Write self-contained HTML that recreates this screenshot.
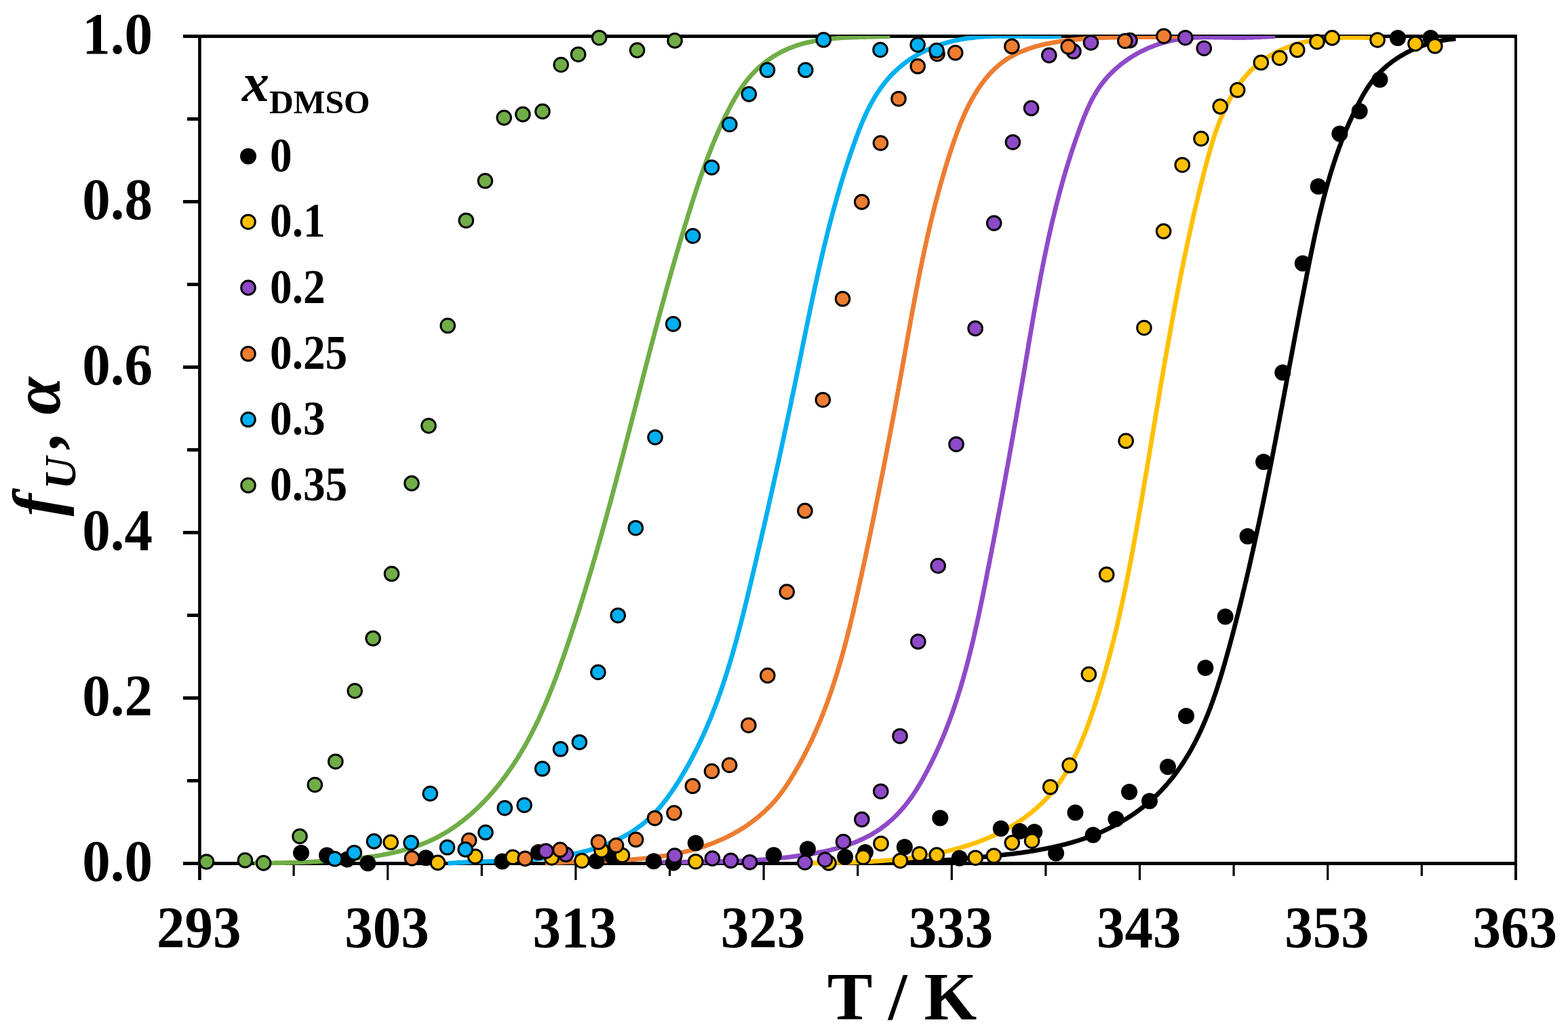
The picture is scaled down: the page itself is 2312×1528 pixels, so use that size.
<!DOCTYPE html>
<html><head><meta charset="utf-8"><title>Unfolded fraction vs temperature</title>
<style>html,body{margin:0;padding:0;background:#fff;}svg{display:block;}</style></head>
<body>
<svg width="2312" height="1528" viewBox="0 0 2312 1528">
<defs><clipPath id="pc"><rect x="292" y="52.8" width="1946" height="1240"/></clipPath></defs>
<rect width="2312" height="1528" fill="#fff"/>
<g stroke="#000" fill="none">
<path d="M294.4,51 V1298" stroke-width="4.6"/>
<path d="M270,53.5 H2237" stroke-width="5"/>
<path d="M2235,51 V1298" stroke-width="4"/>
<path d="M270,1273.5 H2237" stroke-width="5"/>
<path d="M276,1151.5 H294" stroke-width="5"/>
<path d="M270,1029.5 H294" stroke-width="5"/>
<path d="M276,907.5 H294" stroke-width="5"/>
<path d="M270,785.5 H294" stroke-width="5"/>
<path d="M276,663.5 H294" stroke-width="5"/>
<path d="M270,541.5 H294" stroke-width="5"/>
<path d="M276,419.5 H294" stroke-width="5"/>
<path d="M270,297.5 H294" stroke-width="5"/>
<path d="M276,175.5 H294" stroke-width="5"/>
<path d="M294.5,1273 V1298" stroke-width="3.2"/>
<path d="M433.1,1273 V1292" stroke-width="3.2"/>
<path d="M571.7,1273 V1298" stroke-width="3.2"/>
<path d="M710.3,1273 V1292" stroke-width="3.2"/>
<path d="M848.9,1273 V1298" stroke-width="3.2"/>
<path d="M987.5,1273 V1292" stroke-width="3.2"/>
<path d="M1126.1,1273 V1298" stroke-width="3.2"/>
<path d="M1264.7,1273 V1292" stroke-width="3.2"/>
<path d="M1403.3,1273 V1298" stroke-width="3.2"/>
<path d="M1541.9,1273 V1292" stroke-width="3.2"/>
<path d="M1680.5,1273 V1298" stroke-width="3.2"/>
<path d="M1819.1,1273 V1292" stroke-width="3.2"/>
<path d="M1957.7,1273 V1298" stroke-width="3.2"/>
<path d="M2096.3,1273 V1292" stroke-width="3.2"/>
</g>
<g font-family="Liberation Serif, serif" font-weight="bold" font-size="83" fill="#000">
<text transform="translate(225,1299.3) scale(1,1.035)" text-anchor="end">0.0</text>
<text transform="translate(225,1055.3) scale(1,1.035)" text-anchor="end">0.2</text>
<text transform="translate(225,811.3) scale(1,1.035)" text-anchor="end">0.4</text>
<text transform="translate(225,567.3) scale(1,1.035)" text-anchor="end">0.6</text>
<text transform="translate(225,323.3) scale(1,1.035)" text-anchor="end">0.8</text>
<text transform="translate(225,79.3) scale(1,1.035)" text-anchor="end">1.0</text>
<text transform="translate(293.3,1397) scale(1,1.035)" text-anchor="middle">293</text>
<text transform="translate(570.5,1397) scale(1,1.035)" text-anchor="middle">303</text>
<text transform="translate(847.7,1397) scale(1,1.035)" text-anchor="middle">313</text>
<text transform="translate(1124.9,1397) scale(1,1.035)" text-anchor="middle">323</text>
<text transform="translate(1402.1,1397) scale(1,1.035)" text-anchor="middle">333</text>
<text transform="translate(1679.3,1397) scale(1,1.035)" text-anchor="middle">343</text>
<text transform="translate(1956.5,1397) scale(1,1.035)" text-anchor="middle">353</text>
<text transform="translate(2233.7,1397) scale(1,1.035)" text-anchor="middle">363</text>
</g>
<text x="1330" y="1503" font-family="Liberation Serif, serif" font-weight="bold" font-size="100" text-anchor="middle">T / K</text>
<text transform="translate(88,761.5) rotate(-90)" font-family="Liberation Serif, serif" font-weight="bold" font-style="italic" font-size="100">f<tspan font-size="66" dy="23" dx="6.5">U</tspan><tspan dy="-23" dx="13.2">,</tspan><tspan dx="-0.7"> α</tspan></text>
<g clip-path="url(#pc)" fill="none" stroke-width="6.75" stroke-linejoin="round">
<path d="M1330.0,1270.0 L1333.3,1270.1 L1336.6,1270.1 L1339.9,1270.2 L1343.3,1270.2 L1346.6,1270.2 L1349.9,1270.2 L1353.2,1270.1 L1356.5,1270.1 L1359.8,1270.0 L1363.1,1269.9 L1366.5,1269.8 L1369.8,1269.7 L1373.1,1269.6 L1376.3,1269.5 L1379.6,1269.3 L1382.9,1269.2 L1386.2,1269.0 L1389.5,1268.8 L1392.8,1268.6 L1396.1,1268.4 L1399.4,1268.2 L1402.7,1268.0 L1406.0,1267.8 L1409.2,1267.5 L1412.5,1267.3 L1415.8,1267.0 L1419.1,1266.7 L1422.4,1266.5 L1425.7,1266.2 L1428.9,1265.9 L1432.2,1265.6 L1435.5,1265.3 L1438.8,1265.0 L1442.1,1264.7 L1445.4,1264.4 L1448.7,1264.1 L1452.0,1263.7 L1455.3,1263.4 L1458.6,1263.1 L1461.8,1262.7 L1465.1,1262.4 L1468.4,1262.1 L1471.7,1261.7 L1475.0,1261.4 L1478.3,1261.0 L1481.6,1260.6 L1484.9,1260.2 L1488.2,1259.9 L1491.5,1259.5 L1494.8,1259.1 L1498.1,1258.6 L1501.4,1258.2 L1504.7,1257.8 L1507.9,1257.3 L1511.2,1256.8 L1514.5,1256.4 L1517.8,1255.9 L1521.0,1255.3 L1524.3,1254.8 L1527.6,1254.3 L1530.8,1253.7 L1534.1,1253.1 L1537.3,1252.5 L1540.6,1251.9 L1543.8,1251.3 L1547.1,1250.6 L1550.3,1250.0 L1553.5,1249.3 L1556.7,1248.6 L1559.9,1247.8 L1563.2,1247.1 L1566.4,1246.3 L1569.5,1245.5 L1572.7,1244.7 L1575.9,1243.8 L1579.1,1242.9 L1582.2,1242.0 L1585.4,1241.1 L1588.5,1240.1 L1591.7,1239.1 L1594.8,1238.1 L1597.9,1237.1 L1601.0,1236.0 L1604.1,1234.9 L1607.2,1233.8 L1610.3,1232.6 L1613.4,1231.4 L1616.4,1230.2 L1619.5,1228.9 L1622.5,1227.6 L1625.6,1226.3 L1628.6,1224.9 L1631.6,1223.5 L1634.6,1222.1 L1637.5,1220.6 L1640.5,1219.1 L1643.5,1217.5 L1646.4,1215.9 L1649.3,1214.3 L1652.2,1212.7 L1655.1,1211.0 L1658.0,1209.2 L1660.9,1207.5 L1663.7,1205.7 L1666.5,1203.9 L1669.3,1202.0 L1672.1,1200.1 L1674.8,1198.2 L1677.5,1196.2 L1680.2,1194.2 L1682.9,1192.2 L1685.5,1190.2 L1688.1,1188.1 L1690.7,1186.0 L1693.2,1183.9 L1695.7,1181.7 L1698.2,1179.5 L1700.7,1177.3 L1703.1,1175.0 L1705.5,1172.8 L1707.8,1170.5 L1710.1,1168.1 L1712.4,1165.8 L1714.6,1163.4 L1716.8,1161.0 L1719.0,1158.6 L1721.1,1156.2 L1723.2,1153.7 L1725.3,1151.2 L1727.4,1148.7 L1729.4,1146.2 L1731.4,1143.6 L1733.3,1141.0 L1735.2,1138.4 L1737.1,1135.8 L1739.0,1133.1 L1740.8,1130.5 L1742.7,1127.8 L1744.4,1125.1 L1746.2,1122.4 L1747.9,1119.6 L1749.6,1116.9 L1751.3,1114.1 L1753.0,1111.3 L1754.6,1108.5 L1756.2,1105.6 L1757.8,1102.8 L1759.3,1099.9 L1760.9,1097.1 L1762.4,1094.2 L1763.9,1091.2 L1765.3,1088.3 L1766.8,1085.4 L1768.2,1082.4 L1769.6,1079.5 L1771.0,1076.5 L1772.3,1073.5 L1773.7,1070.5 L1775.0,1067.4 L1776.3,1064.4 L1777.5,1061.4 L1778.8,1058.3 L1780.1,1055.2 L1781.3,1052.2 L1782.5,1049.1 L1783.7,1046.0 L1784.9,1042.9 L1786.0,1039.7 L1787.2,1036.6 L1788.3,1033.5 L1789.4,1030.3 L1790.5,1027.2 L1791.6,1024.0 L1792.7,1020.8 L1793.7,1017.7 L1794.8,1014.5 L1795.8,1011.3 L1796.8,1008.1 L1797.8,1004.9 L1798.8,1001.7 L1799.8,998.5 L1800.8,995.3 L1801.8,992.0 L1802.7,988.8 L1803.7,985.6 L1804.6,982.4 L1805.6,979.1 L1806.5,975.9 L1807.4,972.6 L1808.3,969.4 L1809.2,966.2 L1810.1,962.9 L1811.0,959.7 L1811.9,956.4 L1812.8,953.2 L1813.7,949.9 L1814.5,946.7 L1815.4,943.5 L1816.3,940.2 L1817.1,937.0 L1818.0,933.7 L1818.8,930.5 L1819.7,927.3 L1820.5,924.0 L1821.3,920.8 L1822.2,917.6 L1823.0,914.3 L1823.8,911.1 L1824.6,907.8 L1825.5,904.6 L1826.3,901.4 L1827.1,898.1 L1827.9,894.9 L1828.7,891.7 L1829.5,888.4 L1830.3,885.2 L1831.1,882.0 L1831.9,878.8 L1832.6,875.5 L1833.4,872.3 L1834.2,869.1 L1835.0,865.8 L1835.7,862.6 L1836.5,859.4 L1837.3,856.2 L1838.0,852.9 L1838.8,849.7 L1839.5,846.5 L1840.3,843.3 L1841.0,840.0 L1841.8,836.8 L1842.5,833.6 L1843.2,830.4 L1844.0,827.1 L1844.7,823.9 L1845.4,820.7 L1846.1,817.5 L1846.9,814.2 L1847.6,811.0 L1848.3,807.8 L1849.0,804.6 L1849.7,801.3 L1850.4,798.1 L1851.1,794.9 L1851.8,791.7 L1852.5,788.5 L1853.2,785.2 L1853.9,782.0 L1854.6,778.8 L1855.3,775.6 L1856.0,772.4 L1856.7,769.1 L1857.3,765.9 L1858.0,762.7 L1858.7,759.5 L1859.4,756.3 L1860.0,753.0 L1860.7,749.8 L1861.4,746.6 L1862.0,743.4 L1862.7,740.2 L1863.4,736.9 L1864.0,733.7 L1864.7,730.5 L1865.3,727.3 L1866.0,724.1 L1866.6,720.8 L1867.3,717.6 L1867.9,714.4 L1868.6,711.2 L1869.2,708.0 L1869.9,704.7 L1870.5,701.5 L1871.2,698.3 L1871.8,695.1 L1872.4,691.9 L1873.1,688.6 L1873.7,685.4 L1874.3,682.2 L1875.0,679.0 L1875.6,675.8 L1876.2,672.5 L1876.8,669.3 L1877.5,666.1 L1878.1,662.9 L1878.7,659.7 L1879.3,656.4 L1880.0,653.2 L1880.6,650.0 L1881.2,646.8 L1881.8,643.5 L1882.4,640.3 L1883.0,637.1 L1883.7,633.9 L1884.3,630.7 L1884.9,627.4 L1885.5,624.2 L1886.1,621.0 L1886.7,617.8 L1887.3,614.5 L1887.9,611.3 L1888.5,608.1 L1889.1,604.9 L1889.8,601.6 L1890.4,598.4 L1891.0,595.2 L1891.6,591.9 L1892.2,588.7 L1892.8,585.5 L1893.4,582.3 L1894.0,579.0 L1894.6,575.8 L1895.2,572.6 L1895.8,569.3 L1896.4,566.1 L1897.0,562.9 L1897.6,559.6 L1898.2,556.4 L1898.8,553.2 L1899.4,549.9 L1900.0,546.7 L1900.6,543.5 L1901.2,540.2 L1901.8,537.0 L1902.5,533.8 L1903.1,530.5 L1903.7,527.3 L1904.3,524.1 L1904.9,520.8 L1905.5,517.6 L1906.1,514.3 L1906.7,511.1 L1907.3,507.9 L1907.9,504.6 L1908.5,501.4 L1909.1,498.1 L1909.7,494.9 L1910.3,491.6 L1911.0,488.4 L1911.6,485.1 L1912.2,481.9 L1912.8,478.6 L1913.4,475.4 L1914.0,472.1 L1914.6,468.9 L1915.3,465.6 L1915.9,462.4 L1916.5,459.1 L1917.1,455.9 L1917.7,452.6 L1918.4,449.4 L1919.0,446.1 L1919.6,442.9 L1920.2,439.6 L1920.9,436.3 L1921.5,433.1 L1922.1,429.8 L1922.8,426.6 L1923.4,423.3 L1924.0,420.0 L1924.7,416.8 L1925.3,413.5 L1926.0,410.2 L1926.6,407.0 L1927.2,403.7 L1927.9,400.4 L1928.5,397.2 L1929.2,393.9 L1929.8,390.6 L1930.5,387.4 L1931.1,384.1 L1931.8,380.8 L1932.5,377.5 L1933.1,374.3 L1933.8,371.0 L1934.5,367.7 L1935.2,364.4 L1935.8,361.2 L1936.5,357.9 L1937.2,354.6 L1937.9,351.4 L1938.6,348.1 L1939.3,344.8 L1940.0,341.6 L1940.8,338.3 L1941.5,335.0 L1942.2,331.8 L1943.0,328.5 L1943.7,325.3 L1944.5,322.0 L1945.2,318.8 L1946.0,315.5 L1946.8,312.3 L1947.6,309.0 L1948.4,305.8 L1949.2,302.5 L1950.0,299.3 L1950.8,296.1 L1951.6,292.8 L1952.5,289.6 L1953.3,286.4 L1954.2,283.2 L1955.0,280.0 L1955.9,276.8 L1956.8,273.6 L1957.7,270.4 L1958.6,267.2 L1959.6,264.0 L1960.5,260.8 L1961.4,257.6 L1962.4,254.4 L1963.4,251.3 L1964.4,248.1 L1965.4,244.9 L1966.4,241.8 L1967.4,238.6 L1968.5,235.5 L1969.5,232.4 L1970.6,229.2 L1971.7,226.1 L1972.8,223.0 L1973.9,219.9 L1975.0,216.8 L1976.2,213.7 L1977.3,210.6 L1978.5,207.5 L1979.7,204.5 L1980.9,201.4 L1982.1,198.3 L1983.4,195.3 L1984.6,192.2 L1985.9,189.2 L1987.2,186.2 L1988.5,183.2 L1989.8,180.2 L1991.2,177.2 L1992.6,174.2 L1993.9,171.2 L1995.3,168.2 L1996.8,165.3 L1998.2,162.3 L1999.7,159.4 L2001.2,156.4 L2002.7,153.5 L2004.2,150.6 L2005.7,147.7 L2007.3,144.8 L2008.9,141.9 L2010.5,139.0 L2012.2,136.2 L2013.9,133.4 L2015.7,130.6 L2017.5,127.9 L2019.3,125.2 L2021.2,122.5 L2023.2,119.9 L2025.2,117.4 L2027.2,114.8 L2029.4,112.4 L2031.6,109.9 L2033.8,107.6 L2036.1,105.2 L2038.5,103.0 L2040.9,100.7 L2043.3,98.6 L2045.8,96.4 L2048.4,94.4 L2051.0,92.3 L2053.6,90.4 L2056.3,88.5 L2059.0,86.6 L2061.8,84.8 L2064.6,83.0 L2067.5,81.3 L2070.3,79.7 L2073.3,78.1 L2076.2,76.5 L2079.2,75.1 L2082.2,73.6 L2085.2,72.3 L2088.3,71.0 L2091.4,69.7 L2094.5,68.5 L2097.6,67.4 L2100.8,66.3 L2104.0,65.3 L2107.2,64.3 L2110.4,63.4 L2113.6,62.5 L2116.9,61.8 L2120.2,61.0 L2123.4,60.4 L2126.7,59.7 L2130.0,59.2 L2133.3,58.7 L2136.6,58.2 L2139.9,57.8 L2143.2,57.5 L2146.5,57.2" stroke="#000000"/>
<path d="M1190.1,1272.8 L1193.4,1272.8 L1196.8,1272.8 L1200.2,1272.8 L1203.5,1272.8 L1206.9,1272.8 L1210.3,1272.7 L1213.7,1272.7 L1217.1,1272.7 L1220.5,1272.6 L1223.9,1272.6 L1227.3,1272.6 L1230.6,1272.5 L1234.0,1272.4 L1237.4,1272.4 L1240.8,1272.3 L1244.2,1272.2 L1247.6,1272.2 L1251.0,1272.1 L1254.4,1272.0 L1257.8,1271.8 L1261.2,1271.7 L1264.6,1271.6 L1268.0,1271.5 L1271.4,1271.3 L1274.8,1271.2 L1278.2,1271.0 L1281.6,1270.8 L1285.0,1270.6 L1288.4,1270.4 L1291.8,1270.2 L1295.1,1270.0 L1298.5,1269.7 L1301.9,1269.5 L1305.3,1269.2 L1308.7,1268.9 L1312.1,1268.7 L1315.4,1268.3 L1318.8,1268.0 L1322.2,1267.7 L1325.5,1267.3 L1328.9,1267.0 L1332.3,1266.6 L1335.6,1266.2 L1339.0,1265.8 L1342.3,1265.3 L1345.7,1264.9 L1349.0,1264.4 L1352.3,1263.9 L1355.7,1263.4 L1359.0,1262.9 L1362.3,1262.3 L1365.6,1261.8 L1368.9,1261.2 L1372.2,1260.6 L1375.5,1260.0 L1378.8,1259.3 L1382.1,1258.6 L1385.4,1257.9 L1388.7,1257.2 L1392.0,1256.5 L1395.2,1255.7 L1398.5,1255.0 L1401.7,1254.2 L1405.0,1253.3 L1408.2,1252.5 L1411.5,1251.6 L1414.7,1250.7 L1417.9,1249.8 L1421.1,1248.8 L1424.3,1247.8 L1427.5,1246.8 L1430.7,1245.8 L1433.9,1244.7 L1437.0,1243.6 L1440.2,1242.5 L1443.3,1241.3 L1446.5,1240.1 L1449.6,1238.9 L1452.7,1237.7 L1455.8,1236.4 L1458.9,1235.1 L1462.0,1233.7 L1465.1,1232.3 L1468.1,1230.9 L1471.2,1229.4 L1474.2,1228.0 L1477.2,1226.4 L1480.2,1224.9 L1483.2,1223.3 L1486.1,1221.7 L1489.0,1220.0 L1492.0,1218.3 L1494.8,1216.5 L1497.7,1214.8 L1500.6,1212.9 L1503.4,1211.1 L1506.2,1209.2 L1508.9,1207.2 L1511.7,1205.3 L1514.4,1203.3 L1517.1,1201.2 L1519.7,1199.1 L1522.4,1197.0 L1524.9,1194.8 L1527.5,1192.6 L1530.0,1190.4 L1532.5,1188.1 L1535.0,1185.8 L1537.4,1183.5 L1539.8,1181.1 L1542.1,1178.7 L1544.4,1176.2 L1546.7,1173.7 L1548.9,1171.2 L1551.0,1168.7 L1553.2,1166.1 L1555.3,1163.5 L1557.3,1160.8 L1559.3,1158.2 L1561.3,1155.5 L1563.2,1152.7 L1565.1,1150.0 L1567.0,1147.2 L1568.8,1144.3 L1570.6,1141.5 L1572.3,1138.6 L1574.0,1135.7 L1575.7,1132.8 L1577.3,1129.9 L1579.0,1126.9 L1580.5,1124.0 L1582.1,1121.0 L1583.6,1117.9 L1585.1,1114.9 L1586.6,1111.8 L1588.1,1108.8 L1589.5,1105.7 L1590.9,1102.6 L1592.2,1099.4 L1593.6,1096.3 L1594.9,1093.2 L1596.2,1090.0 L1597.5,1086.8 L1598.8,1083.7 L1600.0,1080.5 L1601.3,1077.3 L1602.5,1074.1 L1603.7,1070.8 L1604.8,1067.6 L1606.0,1064.4 L1607.2,1061.2 L1608.3,1057.9 L1609.4,1054.7 L1610.5,1051.4 L1611.7,1048.2 L1612.7,1044.9 L1613.8,1041.7 L1614.9,1038.4 L1616.0,1035.2 L1617.0,1031.9 L1618.1,1028.7 L1619.1,1025.4 L1620.1,1022.1 L1621.1,1018.9 L1622.1,1015.6 L1623.1,1012.4 L1624.1,1009.1 L1625.1,1005.8 L1626.1,1002.6 L1627.0,999.3 L1628.0,996.0 L1628.9,992.7 L1629.9,989.5 L1630.8,986.2 L1631.7,982.9 L1632.6,979.6 L1633.5,976.3 L1634.4,973.1 L1635.3,969.8 L1636.2,966.5 L1637.0,963.2 L1637.9,959.9 L1638.8,956.6 L1639.6,953.3 L1640.4,950.0 L1641.3,946.8 L1642.1,943.5 L1642.9,940.2 L1643.7,936.9 L1644.5,933.6 L1645.3,930.3 L1646.1,927.0 L1646.9,923.7 L1647.7,920.4 L1648.4,917.1 L1649.2,913.8 L1650.0,910.5 L1650.7,907.1 L1651.5,903.8 L1652.2,900.5 L1652.9,897.2 L1653.7,893.9 L1654.4,890.6 L1655.1,887.3 L1655.8,884.0 L1656.5,880.7 L1657.2,877.3 L1657.9,874.0 L1658.6,870.7 L1659.3,867.4 L1660.0,864.1 L1660.7,860.8 L1661.3,857.4 L1662.0,854.1 L1662.7,850.8 L1663.3,847.5 L1664.0,844.1 L1664.6,840.8 L1665.3,837.5 L1665.9,834.2 L1666.5,830.8 L1667.2,827.5 L1667.8,824.2 L1668.4,820.9 L1669.1,817.5 L1669.7,814.2 L1670.3,810.9 L1670.9,807.5 L1671.5,804.2 L1672.1,800.9 L1672.7,797.5 L1673.3,794.2 L1673.9,790.9 L1674.5,787.5 L1675.1,784.2 L1675.7,780.9 L1676.3,777.5 L1676.9,774.2 L1677.5,770.9 L1678.1,767.5 L1678.7,764.2 L1679.2,760.9 L1679.8,757.5 L1680.4,754.2 L1681.0,750.8 L1681.6,747.5 L1682.1,744.2 L1682.7,740.8 L1683.3,737.5 L1683.8,734.2 L1684.4,730.8 L1685.0,727.5 L1685.5,724.1 L1686.1,720.8 L1686.7,717.5 L1687.2,714.1 L1687.8,710.8 L1688.4,707.4 L1688.9,704.1 L1689.5,700.8 L1690.1,697.4 L1690.6,694.1 L1691.2,690.7 L1691.7,687.4 L1692.3,684.0 L1692.8,680.7 L1693.4,677.4 L1694.0,674.0 L1694.5,670.7 L1695.1,667.3 L1695.6,664.0 L1696.2,660.7 L1696.7,657.3 L1697.3,654.0 L1697.9,650.6 L1698.4,647.3 L1699.0,643.9 L1699.5,640.6 L1700.1,637.3 L1700.6,633.9 L1701.2,630.6 L1701.7,627.2 L1702.3,623.9 L1702.9,620.5 L1703.4,617.2 L1704.0,613.9 L1704.5,610.5 L1705.1,607.2 L1705.6,603.8 L1706.2,600.5 L1706.8,597.1 L1707.3,593.8 L1707.9,590.5 L1708.4,587.1 L1709.0,583.8 L1709.6,580.4 L1710.1,577.1 L1710.7,573.8 L1711.3,570.4 L1711.8,567.1 L1712.4,563.7 L1713.0,560.4 L1713.5,557.0 L1714.1,553.7 L1714.7,550.4 L1715.2,547.0 L1715.8,543.7 L1716.4,540.3 L1717.0,537.0 L1717.5,533.7 L1718.1,530.3 L1718.7,527.0 L1719.3,523.7 L1719.9,520.3 L1720.5,517.0 L1721.0,513.6 L1721.6,510.3 L1722.2,507.0 L1722.8,503.6 L1723.4,500.3 L1724.0,497.0 L1724.6,493.6 L1725.2,490.3 L1725.8,486.9 L1726.4,483.6 L1727.0,480.3 L1727.6,476.9 L1728.2,473.6 L1728.8,470.3 L1729.5,466.9 L1730.1,463.6 L1730.7,460.3 L1731.3,456.9 L1731.9,453.6 L1732.6,450.3 L1733.2,446.9 L1733.8,443.6 L1734.5,440.3 L1735.1,437.0 L1735.7,433.6 L1736.4,430.3 L1737.0,427.0 L1737.7,423.6 L1738.3,420.3 L1739.0,417.0 L1739.6,413.7 L1740.3,410.3 L1740.9,407.0 L1741.6,403.7 L1742.3,400.4 L1742.9,397.0 L1743.6,393.7 L1744.3,390.4 L1745.0,387.1 L1745.6,383.8 L1746.3,380.4 L1747.0,377.1 L1747.7,373.8 L1748.4,370.5 L1749.1,367.2 L1749.8,363.8 L1750.5,360.5 L1751.2,357.2 L1751.9,353.9 L1752.7,350.6 L1753.4,347.3 L1754.1,343.9 L1754.8,340.6 L1755.6,337.3 L1756.3,334.0 L1757.0,330.7 L1757.8,327.4 L1758.5,324.1 L1759.3,320.8 L1760.0,317.5 L1760.8,314.1 L1761.6,310.8 L1762.3,307.5 L1763.1,304.2 L1763.9,300.9 L1764.7,297.6 L1765.5,294.3 L1766.2,291.0 L1767.0,287.7 L1767.8,284.4 L1768.6,281.1 L1769.4,277.8 L1770.3,274.5 L1771.1,271.2 L1771.9,267.9 L1772.7,264.6 L1773.6,261.3 L1774.4,258.0 L1775.2,254.7 L1776.1,251.5 L1776.9,248.2 L1777.8,244.9 L1778.7,241.6 L1779.5,238.3 L1780.4,235.0 L1781.3,231.7 L1782.2,228.5 L1783.1,225.2 L1784.1,221.9 L1785.0,218.6 L1786.0,215.4 L1786.9,212.1 L1787.9,208.9 L1789.0,205.6 L1790.0,202.4 L1791.1,199.2 L1792.1,195.9 L1793.2,192.7 L1794.4,189.5 L1795.5,186.3 L1796.7,183.2 L1798.0,180.0 L1799.2,176.8 L1800.5,173.7 L1801.8,170.5 L1803.2,167.4 L1804.5,164.3 L1806.0,161.2 L1807.4,158.1 L1808.9,155.0 L1810.4,151.9 L1812.0,148.9 L1813.6,145.9 L1815.3,142.9 L1817.0,140.0 L1818.7,137.1 L1820.5,134.2 L1822.3,131.3 L1824.2,128.5 L1826.1,125.8 L1828.1,123.0 L1830.1,120.3 L1832.1,117.7 L1834.3,115.1 L1836.4,112.5 L1838.6,110.0 L1840.9,107.6 L1843.2,105.2 L1845.6,102.8 L1848.0,100.5 L1850.5,98.3 L1853.0,96.1 L1855.6,94.0 L1858.2,92.0 L1860.9,90.0 L1863.6,88.0 L1866.4,86.2 L1869.2,84.3 L1872.0,82.6 L1874.9,80.9 L1877.8,79.2 L1880.8,77.6 L1883.8,76.1 L1886.8,74.6 L1889.9,73.2 L1893.0,71.9 L1896.1,70.6 L1899.3,69.3 L1902.5,68.2 L1905.7,67.1 L1908.9,66.0 L1912.2,65.0 L1915.5,64.1 L1918.8,63.2 L1922.1,62.4 L1925.4,61.6 L1928.8,60.9 L1932.2,60.2 L1935.6,59.6 L1939.0,59.1 L1942.4,58.6 L1945.8,58.1 L1949.2,57.7 L1952.6,57.3 L1956.0,56.9 L1959.5,56.6 L1962.9,56.4 L1966.4,56.1 L1969.8,55.9 L1973.2,55.8 L1976.7,55.6 L1980.1,55.5 L1983.5,55.4 L1986.9,55.4 L1990.3,55.3 L1993.7,55.3 L1997.1,55.3 L2000.4,55.3 L2003.8,55.4 L2007.1,55.4 L2010.4,55.4 L2013.7,55.5 L2017.0,55.6 L2020.2,55.6" stroke="#FFC000"/>
<path d="M976.4,1271.7 L980.0,1271.6 L983.6,1271.6 L987.1,1271.6 L990.7,1271.5 L994.3,1271.5 L997.8,1271.5 L1001.4,1271.5 L1004.9,1271.4 L1008.5,1271.4 L1012.1,1271.4 L1015.6,1271.4 L1019.2,1271.3 L1022.7,1271.3 L1026.2,1271.3 L1029.8,1271.2 L1033.3,1271.2 L1036.9,1271.1 L1040.4,1271.1 L1043.9,1271.0 L1047.5,1271.0 L1051.0,1270.9 L1054.5,1270.8 L1058.1,1270.8 L1061.6,1270.7 L1065.1,1270.6 L1068.7,1270.5 L1072.2,1270.4 L1075.7,1270.3 L1079.2,1270.2 L1082.7,1270.0 L1086.3,1269.9 L1089.8,1269.8 L1093.3,1269.6 L1096.8,1269.5 L1100.4,1269.3 L1103.9,1269.1 L1107.4,1268.9 L1110.9,1268.7 L1114.4,1268.5 L1117.9,1268.3 L1121.5,1268.0 L1125.0,1267.8 L1128.5,1267.5 L1132.0,1267.2 L1135.5,1266.9 L1139.1,1266.6 L1142.6,1266.3 L1146.1,1266.0 L1149.6,1265.6 L1153.2,1265.2 L1156.7,1264.9 L1160.2,1264.5 L1163.7,1264.1 L1167.3,1263.6 L1170.8,1263.2 L1174.3,1262.7 L1177.9,1262.2 L1181.4,1261.7 L1184.9,1261.2 L1188.5,1260.7 L1192.0,1260.1 L1195.5,1259.5 L1199.1,1258.9 L1202.6,1258.3 L1206.1,1257.6 L1209.6,1256.9 L1213.1,1256.2 L1216.6,1255.5 L1220.1,1254.7 L1223.6,1253.9 L1227.0,1253.0 L1230.5,1252.1 L1233.9,1251.2 L1237.3,1250.2 L1240.7,1249.2 L1244.1,1248.2 L1247.5,1247.1 L1250.8,1246.0 L1254.1,1244.8 L1257.4,1243.6 L1260.7,1242.3 L1264.0,1241.0 L1267.2,1239.6 L1270.4,1238.1 L1273.5,1236.7 L1276.7,1235.1 L1279.8,1233.5 L1282.9,1231.9 L1285.9,1230.2 L1288.9,1228.4 L1291.9,1226.5 L1294.8,1224.6 L1297.7,1222.7 L1300.6,1220.6 L1303.4,1218.5 L1306.2,1216.4 L1308.9,1214.1 L1311.6,1211.8 L1314.3,1209.5 L1316.9,1207.1 L1319.5,1204.6 L1322.0,1202.1 L1324.5,1199.5 L1326.9,1196.9 L1329.3,1194.3 L1331.7,1191.6 L1334.0,1188.8 L1336.2,1186.0 L1338.4,1183.2 L1340.6,1180.3 L1342.7,1177.4 L1344.8,1174.5 L1346.8,1171.5 L1348.8,1168.6 L1350.7,1165.5 L1352.6,1162.5 L1354.4,1159.4 L1356.3,1156.4 L1358.1,1153.3 L1359.8,1150.2 L1361.6,1147.1 L1363.3,1144.0 L1365.0,1140.8 L1366.6,1137.7 L1368.3,1134.6 L1369.9,1131.4 L1371.5,1128.2 L1373.1,1125.1 L1374.7,1121.9 L1376.2,1118.7 L1377.8,1115.5 L1379.3,1112.3 L1380.8,1109.1 L1382.2,1105.9 L1383.7,1102.7 L1385.1,1099.5 L1386.5,1096.2 L1387.9,1093.0 L1389.3,1089.7 L1390.7,1086.5 L1392.0,1083.2 L1393.3,1080.0 L1394.6,1076.7 L1395.9,1073.4 L1397.2,1070.1 L1398.5,1066.8 L1399.7,1063.5 L1400.9,1060.2 L1402.1,1056.9 L1403.3,1053.6 L1404.5,1050.3 L1405.7,1046.9 L1406.8,1043.6 L1407.9,1040.3 L1409.1,1036.9 L1410.2,1033.6 L1411.3,1030.2 L1412.3,1026.9 L1413.4,1023.5 L1414.4,1020.1 L1415.5,1016.8 L1416.5,1013.4 L1417.5,1010.0 L1418.5,1006.6 L1419.5,1003.2 L1420.5,999.8 L1421.4,996.4 L1422.4,993.0 L1423.3,989.6 L1424.3,986.2 L1425.2,982.8 L1426.1,979.4 L1427.0,975.9 L1427.9,972.5 L1428.7,969.1 L1429.6,965.6 L1430.5,962.2 L1431.3,958.8 L1432.2,955.3 L1433.0,951.9 L1433.8,948.4 L1434.7,945.0 L1435.5,941.5 L1436.3,938.1 L1437.1,934.6 L1437.8,931.2 L1438.6,927.7 L1439.4,924.2 L1440.2,920.8 L1440.9,917.3 L1441.7,913.8 L1442.4,910.3 L1443.2,906.9 L1443.9,903.4 L1444.7,899.9 L1445.4,896.4 L1446.1,893.0 L1446.8,889.5 L1447.6,886.0 L1448.3,882.5 L1449.0,879.0 L1449.7,875.6 L1450.4,872.1 L1451.1,868.6 L1451.8,865.1 L1452.5,861.6 L1453.2,858.1 L1453.9,854.6 L1454.6,851.2 L1455.2,847.7 L1455.9,844.2 L1456.6,840.7 L1457.3,837.2 L1458.0,833.7 L1458.7,830.3 L1459.4,826.8 L1460.0,823.3 L1460.7,819.8 L1461.4,816.3 L1462.1,812.8 L1462.7,809.3 L1463.4,805.9 L1464.1,802.4 L1464.8,798.9 L1465.4,795.4 L1466.1,791.9 L1466.8,788.4 L1467.4,785.0 L1468.1,781.5 L1468.8,778.0 L1469.4,774.5 L1470.1,771.0 L1470.7,767.5 L1471.4,764.0 L1472.0,760.6 L1472.7,757.1 L1473.4,753.6 L1474.0,750.1 L1474.7,746.6 L1475.3,743.1 L1476.0,739.7 L1476.6,736.2 L1477.3,732.7 L1477.9,729.2 L1478.5,725.7 L1479.2,722.2 L1479.8,718.8 L1480.5,715.3 L1481.1,711.8 L1481.8,708.3 L1482.4,704.8 L1483.0,701.3 L1483.7,697.9 L1484.3,694.4 L1484.9,690.9 L1485.6,687.4 L1486.2,683.9 L1486.8,680.4 L1487.5,677.0 L1488.1,673.5 L1488.7,670.0 L1489.3,666.5 L1490.0,663.0 L1490.6,659.5 L1491.2,656.0 L1491.8,652.6 L1492.4,649.1 L1493.1,645.6 L1493.7,642.1 L1494.3,638.6 L1494.9,635.1 L1495.5,631.7 L1496.1,628.2 L1496.8,624.7 L1497.4,621.2 L1498.0,617.7 L1498.6,614.2 L1499.2,610.7 L1499.8,607.3 L1500.4,603.8 L1501.0,600.3 L1501.6,596.8 L1502.2,593.3 L1502.8,589.8 L1503.4,586.3 L1504.0,582.9 L1504.6,579.4 L1505.2,575.9 L1505.8,572.4 L1506.4,568.9 L1507.0,565.4 L1507.6,561.9 L1508.2,558.5 L1508.8,555.0 L1509.4,551.5 L1510.0,548.0 L1510.6,544.5 L1511.2,541.0 L1511.7,537.5 L1512.3,534.0 L1512.9,530.6 L1513.5,527.1 L1514.1,523.6 L1514.7,520.1 L1515.3,516.6 L1515.9,513.1 L1516.4,509.6 L1517.0,506.1 L1517.6,502.7 L1518.2,499.2 L1518.8,495.7 L1519.4,492.2 L1520.0,488.7 L1520.6,485.2 L1521.2,481.7 L1521.8,478.3 L1522.4,474.8 L1523.0,471.3 L1523.6,467.8 L1524.2,464.3 L1524.8,460.8 L1525.4,457.4 L1526.0,453.9 L1526.7,450.4 L1527.3,446.9 L1527.9,443.4 L1528.5,440.0 L1529.2,436.5 L1529.8,433.0 L1530.4,429.5 L1531.1,426.0 L1531.7,422.6 L1532.4,419.1 L1533.0,415.6 L1533.7,412.1 L1534.3,408.7 L1535.0,405.2 L1535.7,401.7 L1536.4,398.3 L1537.0,394.8 L1537.7,391.3 L1538.4,387.9 L1539.1,384.4 L1539.8,380.9 L1540.5,377.5 L1541.2,374.0 L1542.0,370.5 L1542.7,367.1 L1543.4,363.6 L1544.1,360.2 L1544.9,356.7 L1545.6,353.2 L1546.4,349.8 L1547.2,346.3 L1547.9,342.9 L1548.7,339.4 L1549.5,336.0 L1550.3,332.5 L1551.1,329.1 L1551.9,325.6 L1552.7,322.2 L1553.6,318.8 L1554.4,315.3 L1555.2,311.9 L1556.1,308.4 L1556.9,305.0 L1557.8,301.6 L1558.7,298.1 L1559.6,294.7 L1560.5,291.3 L1561.4,287.8 L1562.3,284.4 L1563.2,281.0 L1564.1,277.6 L1565.1,274.2 L1566.0,270.7 L1567.0,267.3 L1567.9,263.9 L1568.9,260.5 L1569.9,257.1 L1570.9,253.7 L1571.9,250.3 L1573.0,246.9 L1574.0,243.5 L1575.0,240.0 L1576.1,236.6 L1577.2,233.3 L1578.2,229.9 L1579.3,226.5 L1580.4,223.1 L1581.5,219.7 L1582.7,216.3 L1583.8,212.9 L1585.0,209.5 L1586.1,206.2 L1587.3,202.8 L1588.5,199.4 L1589.7,196.0 L1590.9,192.7 L1592.1,189.3 L1593.4,185.9 L1594.6,182.6 L1595.9,179.2 L1597.2,175.9 L1598.5,172.5 L1599.9,169.2 L1601.3,165.9 L1602.7,162.6 L1604.1,159.4 L1605.6,156.1 L1607.1,152.9 L1608.7,149.8 L1610.3,146.6 L1612.0,143.5 L1613.7,140.4 L1615.5,137.4 L1617.3,134.4 L1619.2,131.5 L1621.1,128.6 L1623.2,125.7 L1625.3,122.9 L1627.4,120.2 L1629.6,117.5 L1631.9,114.8 L1634.2,112.2 L1636.6,109.7 L1639.1,107.2 L1641.6,104.8 L1644.1,102.4 L1646.7,100.0 L1649.4,97.8 L1652.1,95.5 L1654.9,93.4 L1657.7,91.3 L1660.5,89.2 L1663.4,87.2 L1666.4,85.3 L1669.3,83.4 L1672.3,81.6 L1675.4,79.8 L1678.5,78.1 L1681.6,76.4 L1684.8,74.9 L1687.9,73.3 L1691.2,71.9 L1694.4,70.4 L1697.7,69.1 L1701.0,67.8 L1704.3,66.6 L1707.7,65.4 L1711.0,64.3 L1714.4,63.3 L1717.8,62.3 L1721.3,61.4 L1724.7,60.5 L1728.2,59.7 L1731.6,59.0 L1735.1,58.4 L1738.6,57.8 L1742.1,57.3 L1745.6,56.8 L1749.2,56.4 L1752.7,56.1 L1756.2,55.8 L1759.8,55.5 L1763.3,55.3 L1766.9,55.2 L1770.4,55.1 L1774.0,55.0 L1777.5,54.9 L1781.1,54.9 L1784.7,54.9 L1788.2,55.0 L1791.8,55.0 L1795.4,55.1 L1799.0,55.1 L1802.5,55.2 L1806.1,55.3 L1809.7,55.3 L1813.2,55.4 L1816.8,55.5 L1820.4,55.5 L1823.9,55.6 L1827.5,55.6 L1831.0,55.6 L1834.6,55.5 L1838.1,55.5 L1841.6,55.4 L1845.2,55.3 L1848.7,55.1 L1852.2,55.0 L1855.7,54.8 L1859.3,54.7 L1862.8,54.5 L1866.3,54.3 L1869.8,54.2 L1873.4,54.0 L1876.9,53.8 L1880.4,53.7" stroke="#8F4AC8"/>
<path d="M804.1,1273.0 L807.7,1272.8 L811.2,1272.6 L814.8,1272.4 L818.3,1272.2 L821.9,1272.1 L825.5,1271.9 L829.0,1271.8 L832.6,1271.6 L836.2,1271.5 L839.8,1271.4 L843.3,1271.3 L846.9,1271.2 L850.5,1271.0 L854.1,1270.9 L857.7,1270.8 L861.2,1270.7 L864.8,1270.6 L868.4,1270.5 L872.0,1270.4 L875.6,1270.3 L879.2,1270.2 L882.8,1270.1 L886.4,1270.0 L890.0,1269.8 L893.6,1269.7 L897.1,1269.6 L900.7,1269.4 L904.3,1269.3 L907.9,1269.1 L911.5,1268.9 L915.1,1268.7 L918.7,1268.5 L922.2,1268.3 L925.8,1268.1 L929.4,1267.9 L933.0,1267.6 L936.5,1267.3 L940.1,1267.0 L943.7,1266.7 L947.3,1266.4 L950.8,1266.0 L954.4,1265.7 L957.9,1265.3 L961.5,1264.8 L965.0,1264.4 L968.6,1263.9 L972.1,1263.4 L975.7,1262.9 L979.2,1262.4 L982.7,1261.8 L986.2,1261.2 L989.8,1260.6 L993.3,1259.9 L996.8,1259.2 L1000.3,1258.5 L1003.8,1257.7 L1007.3,1257.0 L1010.8,1256.1 L1014.2,1255.3 L1017.7,1254.4 L1021.2,1253.4 L1024.6,1252.5 L1028.1,1251.5 L1031.5,1250.4 L1034.9,1249.3 L1038.3,1248.2 L1041.7,1247.0 L1045.1,1245.8 L1048.4,1244.6 L1051.8,1243.3 L1055.1,1242.0 L1058.4,1240.6 L1061.7,1239.2 L1065.0,1237.7 L1068.3,1236.2 L1071.5,1234.7 L1074.7,1233.1 L1077.9,1231.5 L1081.1,1229.8 L1084.2,1228.0 L1087.3,1226.3 L1090.4,1224.4 L1093.5,1222.6 L1096.5,1220.7 L1099.5,1218.7 L1102.5,1216.7 L1105.4,1214.6 L1108.3,1212.5 L1111.2,1210.3 L1114.0,1208.1 L1116.8,1205.9 L1119.6,1203.6 L1122.3,1201.2 L1125.0,1198.9 L1127.7,1196.4 L1130.3,1193.9 L1132.9,1191.4 L1135.4,1188.9 L1137.9,1186.3 L1140.3,1183.6 L1142.7,1180.9 L1145.0,1178.2 L1147.3,1175.4 L1149.5,1172.6 L1151.7,1169.7 L1153.8,1166.8 L1155.9,1163.9 L1158.0,1161.0 L1160.0,1158.0 L1161.9,1155.0 L1163.9,1151.9 L1165.8,1148.9 L1167.7,1145.8 L1169.6,1142.8 L1171.4,1139.7 L1173.2,1136.6 L1175.0,1133.5 L1176.8,1130.4 L1178.6,1127.3 L1180.3,1124.2 L1182.0,1121.1 L1183.7,1117.9 L1185.4,1114.7 L1187.0,1111.6 L1188.6,1108.4 L1190.2,1105.2 L1191.8,1102.0 L1193.4,1098.8 L1194.9,1095.6 L1196.5,1092.4 L1198.0,1089.2 L1199.5,1085.9 L1200.9,1082.7 L1202.4,1079.4 L1203.8,1076.1 L1205.2,1072.9 L1206.6,1069.6 L1208.0,1066.3 L1209.4,1063.0 L1210.7,1059.7 L1212.0,1056.4 L1213.4,1053.1 L1214.6,1049.7 L1215.9,1046.4 L1217.2,1043.1 L1218.4,1039.7 L1219.7,1036.4 L1220.9,1033.0 L1222.1,1029.6 L1223.3,1026.2 L1224.4,1022.9 L1225.6,1019.5 L1226.7,1016.1 L1227.9,1012.7 L1229.0,1009.3 L1230.1,1005.9 L1231.2,1002.5 L1232.3,999.0 L1233.3,995.6 L1234.4,992.2 L1235.4,988.8 L1236.4,985.3 L1237.5,981.9 L1238.5,978.4 L1239.5,975.0 L1240.5,971.5 L1241.4,968.1 L1242.4,964.6 L1243.3,961.1 L1244.3,957.6 L1245.2,954.2 L1246.1,950.7 L1247.1,947.2 L1248.0,943.7 L1248.9,940.2 L1249.8,936.7 L1250.6,933.3 L1251.5,929.8 L1252.4,926.3 L1253.2,922.8 L1254.1,919.3 L1254.9,915.8 L1255.8,912.2 L1256.6,908.7 L1257.5,905.2 L1258.3,901.7 L1259.1,898.2 L1259.9,894.7 L1260.7,891.2 L1261.5,887.7 L1262.3,884.1 L1263.1,880.6 L1263.9,877.1 L1264.7,873.6 L1265.4,870.1 L1266.2,866.6 L1267.0,863.0 L1267.8,859.5 L1268.5,856.0 L1269.3,852.5 L1270.1,849.0 L1270.8,845.5 L1271.6,841.9 L1272.3,838.4 L1273.1,834.9 L1273.9,831.4 L1274.6,827.9 L1275.4,824.4 L1276.1,820.9 L1276.8,817.4 L1277.6,813.8 L1278.3,810.3 L1279.1,806.8 L1279.8,803.3 L1280.6,799.8 L1281.3,796.3 L1282.0,792.8 L1282.8,789.3 L1283.5,785.8 L1284.2,782.3 L1284.9,778.8 L1285.7,775.3 L1286.4,771.8 L1287.1,768.3 L1287.8,764.8 L1288.5,761.2 L1289.3,757.7 L1290.0,754.2 L1290.7,750.7 L1291.4,747.2 L1292.1,743.7 L1292.8,740.2 L1293.5,736.7 L1294.2,733.2 L1294.9,729.7 L1295.6,726.2 L1296.3,722.7 L1297.0,719.2 L1297.7,715.7 L1298.4,712.2 L1299.1,708.7 L1299.8,705.2 L1300.5,701.7 L1301.2,698.2 L1301.9,694.7 L1302.6,691.2 L1303.2,687.7 L1303.9,684.2 L1304.6,680.7 L1305.3,677.2 L1306.0,673.7 L1306.6,670.1 L1307.3,666.6 L1308.0,663.1 L1308.7,659.6 L1309.3,656.1 L1310.0,652.6 L1310.7,649.1 L1311.3,645.6 L1312.0,642.1 L1312.7,638.6 L1313.3,635.1 L1314.0,631.6 L1314.7,628.0 L1315.3,624.5 L1316.0,621.0 L1316.6,617.5 L1317.3,614.0 L1318.0,610.5 L1318.6,607.0 L1319.3,603.5 L1319.9,599.9 L1320.6,596.4 L1321.2,592.9 L1321.9,589.4 L1322.5,585.9 L1323.1,582.3 L1323.8,578.8 L1324.4,575.3 L1325.1,571.8 L1325.7,568.3 L1326.4,564.7 L1327.0,561.2 L1327.6,557.7 L1328.3,554.2 L1328.9,550.6 L1329.5,547.1 L1330.2,543.6 L1330.8,540.0 L1331.4,536.5 L1332.1,533.0 L1332.7,529.4 L1333.3,525.9 L1334.0,522.4 L1334.6,518.8 L1335.2,515.3 L1335.8,511.8 L1336.5,508.2 L1337.1,504.7 L1337.7,501.2 L1338.4,497.6 L1339.0,494.1 L1339.6,490.5 L1340.3,487.0 L1340.9,483.5 L1341.6,479.9 L1342.2,476.4 L1342.8,472.8 L1343.5,469.3 L1344.1,465.8 L1344.8,462.2 L1345.4,458.7 L1346.1,455.2 L1346.7,451.6 L1347.4,448.1 L1348.0,444.6 L1348.7,441.0 L1349.4,437.5 L1350.0,433.9 L1350.7,430.4 L1351.4,426.9 L1352.1,423.4 L1352.8,419.8 L1353.4,416.3 L1354.1,412.8 L1354.8,409.2 L1355.5,405.7 L1356.2,402.2 L1356.9,398.7 L1357.7,395.1 L1358.4,391.6 L1359.1,388.1 L1359.8,384.6 L1360.6,381.1 L1361.3,377.5 L1362.0,374.0 L1362.8,370.5 L1363.5,367.0 L1364.3,363.5 L1365.1,360.0 L1365.8,356.5 L1366.6,353.0 L1367.4,349.5 L1368.2,346.0 L1369.0,342.5 L1369.8,339.0 L1370.6,335.5 L1371.4,332.0 L1372.2,328.5 L1373.1,325.0 L1373.9,321.5 L1374.8,318.1 L1375.6,314.6 L1376.5,311.1 L1377.4,307.6 L1378.2,304.2 L1379.1,300.7 L1380.0,297.2 L1380.9,293.8 L1381.8,290.3 L1382.8,286.9 L1383.7,283.4 L1384.6,279.9 L1385.6,276.5 L1386.5,273.1 L1387.5,269.6 L1388.5,266.2 L1389.5,262.7 L1390.4,259.3 L1391.5,255.9 L1392.5,252.4 L1393.5,249.0 L1394.5,245.6 L1395.6,242.2 L1396.6,238.8 L1397.7,235.4 L1398.8,232.0 L1399.9,228.6 L1401.0,225.2 L1402.1,221.8 L1403.2,218.4 L1404.3,215.0 L1405.5,211.6 L1406.6,208.3 L1407.8,204.9 L1409.0,201.5 L1410.2,198.2 L1411.4,194.8 L1412.7,191.5 L1413.9,188.1 L1415.2,184.8 L1416.5,181.5 L1417.9,178.2 L1419.3,174.9 L1420.7,171.6 L1422.1,168.3 L1423.6,165.0 L1425.1,161.8 L1426.7,158.5 L1428.3,155.3 L1430.0,152.1 L1431.7,148.9 L1433.4,145.7 L1435.2,142.6 L1437.1,139.4 L1439.0,136.3 L1440.9,133.2 L1442.9,130.2 L1445.0,127.2 L1447.1,124.2 L1449.3,121.3 L1451.5,118.4 L1453.7,115.6 L1456.0,112.8 L1458.4,110.1 L1460.8,107.5 L1463.3,104.9 L1465.8,102.4 L1468.4,99.9 L1471.1,97.6 L1473.8,95.3 L1476.5,93.0 L1479.3,90.9 L1482.2,88.9 L1485.1,86.9 L1488.1,85.1 L1491.1,83.3 L1494.2,81.6 L1497.3,80.0 L1500.5,78.4 L1503.7,77.0 L1507.0,75.6 L1510.2,74.3 L1513.6,73.0 L1516.9,71.8 L1520.3,70.7 L1523.7,69.6 L1527.2,68.6 L1530.6,67.7 L1534.1,66.8 L1537.6,65.9 L1541.1,65.1 L1544.6,64.4 L1548.2,63.7 L1551.7,63.0 L1555.3,62.4 L1558.9,61.8 L1562.4,61.2 L1566.0,60.7 L1569.6,60.2 L1573.1,59.7 L1576.7,59.3 L1580.3,58.9 L1583.8,58.5 L1587.4,58.1 L1591.0,57.8 L1594.6,57.5 L1598.1,57.2 L1601.7,56.9 L1605.3,56.7 L1608.9,56.4 L1612.5,56.2 L1616.0,56.1 L1619.6,55.9 L1623.2,55.7 L1626.8,55.6 L1630.4,55.5 L1633.9,55.4 L1637.5,55.3 L1641.1,55.2 L1644.7,55.1 L1648.3,55.0 L1651.8,55.0 L1655.4,54.9 L1659.0,54.9 L1662.6,54.8 L1666.2,54.8 L1669.8,54.8 L1673.3,54.8 L1676.9,54.7 L1680.5,54.7 L1684.1,54.7 L1687.7,54.6 L1691.3,54.6 L1694.8,54.6 L1698.4,54.5 L1702.0,54.5 L1705.6,54.5 L1709.2,54.4 L1712.8,54.3 L1716.3,54.3 L1719.9,54.2 L1723.5,54.1 L1727.1,54.0 L1730.7,53.8 L1734.2,53.7 L1737.8,53.6 L1741.4,53.4 L1745.0,53.2" stroke="#ED7D31"/>
<path d="M660.4,1273.4 L663.9,1273.1 L667.3,1272.9 L670.7,1272.7 L674.2,1272.4 L677.6,1272.2 L681.1,1272.1 L684.5,1271.9 L688.0,1271.7 L691.5,1271.5 L694.9,1271.4 L698.4,1271.3 L701.9,1271.1 L705.4,1271.0 L708.9,1270.9 L712.4,1270.7 L715.9,1270.6 L719.4,1270.5 L722.9,1270.4 L726.4,1270.3 L729.9,1270.2 L733.5,1270.0 L737.0,1269.9 L740.5,1269.8 L744.0,1269.7 L747.5,1269.5 L751.1,1269.4 L754.6,1269.2 L758.1,1269.1 L761.6,1268.9 L765.1,1268.7 L768.7,1268.5 L772.2,1268.3 L775.7,1268.1 L779.2,1267.9 L782.7,1267.6 L786.3,1267.4 L789.8,1267.1 L793.3,1266.8 L796.8,1266.5 L800.3,1266.2 L803.8,1265.8 L807.3,1265.4 L810.8,1265.0 L814.3,1264.6 L817.8,1264.1 L821.2,1263.7 L824.7,1263.2 L828.2,1262.6 L831.6,1262.1 L835.1,1261.5 L838.6,1260.9 L842.0,1260.2 L845.4,1259.5 L848.9,1258.8 L852.3,1258.1 L855.7,1257.3 L859.1,1256.4 L862.5,1255.6 L865.9,1254.7 L869.3,1253.7 L872.7,1252.8 L876.0,1251.8 L879.4,1250.7 L882.7,1249.6 L886.0,1248.5 L889.3,1247.3 L892.6,1246.1 L895.8,1244.8 L899.0,1243.5 L902.3,1242.1 L905.4,1240.7 L908.6,1239.3 L911.7,1237.8 L914.8,1236.2 L917.9,1234.7 L921.0,1233.0 L924.0,1231.3 L926.9,1229.6 L929.9,1227.8 L932.8,1226.0 L935.7,1224.1 L938.5,1222.1 L941.3,1220.1 L944.1,1218.1 L946.8,1216.0 L949.5,1213.8 L952.1,1211.6 L954.7,1209.4 L957.2,1207.0 L959.7,1204.7 L962.2,1202.3 L964.6,1199.8 L967.0,1197.3 L969.3,1194.7 L971.6,1192.1 L973.9,1189.5 L976.1,1186.8 L978.3,1184.1 L980.4,1181.3 L982.6,1178.6 L984.7,1175.8 L986.7,1172.9 L988.8,1170.1 L990.8,1167.2 L992.8,1164.3 L994.7,1161.4 L996.6,1158.4 L998.5,1155.5 L1000.4,1152.5 L1002.3,1149.5 L1004.1,1146.5 L1005.9,1143.5 L1007.7,1140.5 L1009.5,1137.5 L1011.2,1134.5 L1013.0,1131.4 L1014.7,1128.4 L1016.4,1125.3 L1018.0,1122.3 L1019.7,1119.2 L1021.3,1116.1 L1022.9,1113.0 L1024.5,1109.9 L1026.1,1106.8 L1027.7,1103.7 L1029.2,1100.6 L1030.7,1097.4 L1032.2,1094.3 L1033.7,1091.1 L1035.2,1088.0 L1036.6,1084.8 L1038.1,1081.7 L1039.5,1078.5 L1040.9,1075.3 L1042.3,1072.1 L1043.6,1068.9 L1045.0,1065.7 L1046.3,1062.5 L1047.7,1059.3 L1049.0,1056.0 L1050.3,1052.8 L1051.5,1049.6 L1052.8,1046.3 L1054.0,1043.1 L1055.3,1039.8 L1056.5,1036.6 L1057.7,1033.3 L1058.9,1030.0 L1060.1,1026.7 L1061.3,1023.5 L1062.4,1020.2 L1063.6,1016.9 L1064.7,1013.6 L1065.8,1010.3 L1066.9,1007.0 L1068.0,1003.6 L1069.1,1000.3 L1070.2,997.0 L1071.2,993.7 L1072.3,990.3 L1073.3,987.0 L1074.3,983.7 L1075.4,980.3 L1076.4,977.0 L1077.4,973.6 L1078.4,970.3 L1079.4,966.9 L1080.3,963.6 L1081.3,960.2 L1082.3,956.8 L1083.2,953.4 L1084.1,950.1 L1085.1,946.7 L1086.0,943.3 L1086.9,939.9 L1087.8,936.5 L1088.7,933.2 L1089.6,929.8 L1090.5,926.4 L1091.4,923.0 L1092.3,919.6 L1093.2,916.2 L1094.0,912.8 L1094.9,909.4 L1095.8,906.0 L1096.6,902.6 L1097.5,899.2 L1098.3,895.8 L1099.1,892.4 L1100.0,889.0 L1100.8,885.6 L1101.6,882.1 L1102.5,878.7 L1103.3,875.3 L1104.1,871.9 L1104.9,868.5 L1105.7,865.1 L1106.5,861.7 L1107.3,858.3 L1108.1,854.9 L1109.0,851.4 L1109.8,848.0 L1110.6,844.6 L1111.4,841.2 L1112.2,837.8 L1113.0,834.4 L1113.8,831.0 L1114.6,827.6 L1115.4,824.2 L1116.1,820.8 L1116.9,817.4 L1117.7,814.0 L1118.5,810.5 L1119.3,807.1 L1120.1,803.7 L1120.9,800.3 L1121.7,796.9 L1122.5,793.5 L1123.2,790.1 L1124.0,786.7 L1124.8,783.3 L1125.6,779.9 L1126.4,776.5 L1127.1,773.1 L1127.9,769.7 L1128.7,766.3 L1129.5,762.9 L1130.2,759.5 L1131.0,756.1 L1131.8,752.7 L1132.5,749.3 L1133.3,745.9 L1134.1,742.5 L1134.8,739.1 L1135.6,735.7 L1136.4,732.3 L1137.1,728.9 L1137.9,725.5 L1138.7,722.1 L1139.4,718.7 L1140.2,715.3 L1140.9,711.9 L1141.7,708.5 L1142.4,705.1 L1143.2,701.7 L1143.9,698.3 L1144.7,694.9 L1145.4,691.5 L1146.2,688.1 L1146.9,684.7 L1147.7,681.3 L1148.4,677.9 L1149.2,674.5 L1149.9,671.1 L1150.6,667.7 L1151.4,664.3 L1152.1,660.9 L1152.8,657.5 L1153.6,654.1 L1154.3,650.7 L1155.0,647.3 L1155.8,643.9 L1156.5,640.5 L1157.2,637.1 L1158.0,633.7 L1158.7,630.3 L1159.4,626.9 L1160.1,623.5 L1160.9,620.1 L1161.6,616.7 L1162.3,613.2 L1163.0,609.8 L1163.8,606.4 L1164.5,603.0 L1165.2,599.6 L1165.9,596.2 L1166.6,592.8 L1167.3,589.4 L1168.0,586.0 L1168.7,582.6 L1169.5,579.2 L1170.2,575.8 L1170.9,572.4 L1171.6,569.0 L1172.3,565.6 L1173.0,562.2 L1173.7,558.7 L1174.4,555.3 L1175.1,551.9 L1175.8,548.5 L1176.5,545.1 L1177.2,541.7 L1177.9,538.3 L1178.6,534.9 L1179.3,531.5 L1180.0,528.0 L1180.7,524.6 L1181.4,521.2 L1182.0,517.8 L1182.7,514.4 L1183.4,511.0 L1184.1,507.6 L1184.8,504.2 L1185.5,500.7 L1186.2,497.3 L1186.9,493.9 L1187.6,490.5 L1188.3,487.1 L1189.0,483.7 L1189.7,480.3 L1190.4,476.8 L1191.1,473.4 L1191.8,470.0 L1192.5,466.6 L1193.2,463.2 L1193.9,459.8 L1194.6,456.4 L1195.3,452.9 L1196.1,449.5 L1196.8,446.1 L1197.5,442.7 L1198.2,439.3 L1199.0,435.9 L1199.7,432.5 L1200.4,429.1 L1201.1,425.7 L1201.9,422.3 L1202.6,418.8 L1203.4,415.4 L1204.1,412.0 L1204.9,408.6 L1205.6,405.2 L1206.4,401.8 L1207.1,398.4 L1207.9,395.0 L1208.7,391.6 L1209.5,388.2 L1210.2,384.8 L1211.0,381.4 L1211.8,378.0 L1212.6,374.6 L1213.4,371.2 L1214.2,367.8 L1215.0,364.4 L1215.8,361.0 L1216.7,357.6 L1217.5,354.3 L1218.3,350.9 L1219.2,347.5 L1220.0,344.1 L1220.9,340.7 L1221.7,337.3 L1222.6,333.9 L1223.4,330.6 L1224.3,327.2 L1225.2,323.8 L1226.1,320.4 L1227.0,317.0 L1227.9,313.7 L1228.8,310.3 L1229.7,306.9 L1230.6,303.6 L1231.6,300.2 L1232.5,296.8 L1233.5,293.5 L1234.4,290.1 L1235.4,286.7 L1236.4,283.4 L1237.3,280.0 L1238.3,276.7 L1239.3,273.3 L1240.3,270.0 L1241.3,266.6 L1242.4,263.3 L1243.4,259.9 L1244.4,256.6 L1245.5,253.2 L1246.5,249.9 L1247.6,246.5 L1248.7,243.2 L1249.8,239.9 L1250.9,236.5 L1252.0,233.2 L1253.1,229.9 L1254.2,226.6 L1255.4,223.2 L1256.5,219.9 L1257.7,216.6 L1258.8,213.3 L1260.0,210.0 L1261.2,206.7 L1262.4,203.3 L1263.6,200.0 L1264.9,196.7 L1266.1,193.5 L1267.4,190.2 L1268.7,186.9 L1270.0,183.6 L1271.3,180.4 L1272.7,177.2 L1274.1,174.0 L1275.5,170.8 L1277.0,167.6 L1278.5,164.4 L1280.0,161.3 L1281.6,158.2 L1283.2,155.1 L1284.8,152.0 L1286.5,148.9 L1288.3,145.9 L1290.0,142.9 L1291.9,140.0 L1293.7,137.0 L1295.7,134.1 L1297.6,131.3 L1299.6,128.5 L1301.7,125.7 L1303.8,122.9 L1306.0,120.2 L1308.2,117.6 L1310.4,115.0 L1312.7,112.4 L1315.1,109.9 L1317.5,107.5 L1320.0,105.1 L1322.5,102.7 L1325.0,100.4 L1327.7,98.2 L1330.3,96.0 L1333.0,93.9 L1335.8,91.8 L1338.6,89.8 L1341.4,87.8 L1344.3,85.9 L1347.2,84.1 L1350.2,82.3 L1353.2,80.6 L1356.3,78.9 L1359.3,77.3 L1362.4,75.7 L1365.6,74.2 L1368.7,72.8 L1371.9,71.4 L1375.2,70.0 L1378.4,68.8 L1381.7,67.5 L1385.0,66.4 L1388.3,65.3 L1391.6,64.2 L1395.0,63.2 L1398.4,62.3 L1401.7,61.4 L1405.1,60.5 L1408.6,59.8 L1412.0,59.0 L1415.4,58.4 L1418.8,57.8 L1422.3,57.2 L1425.8,56.7 L1429.2,56.2 L1432.7,55.8 L1436.2,55.4 L1439.7,55.0 L1443.2,54.7 L1446.7,54.5 L1450.2,54.2 L1453.7,54.0 L1457.2,53.8 L1460.7,53.7 L1464.2,53.6 L1467.7,53.5 L1471.3,53.4 L1474.8,53.4 L1478.3,53.3 L1481.8,53.3 L1485.4,53.3 L1488.9,53.3 L1492.4,53.3 L1495.9,53.4 L1499.5,53.4 L1503.0,53.5 L1506.5,53.5 L1510.0,53.6 L1513.5,53.6 L1517.0,53.7 L1520.5,53.7 L1524.0,53.8 L1527.4,53.8 L1530.9,53.9 L1534.4,53.9 L1537.8,53.9 L1541.3,53.9 L1544.7,53.9 L1548.1,53.8 L1551.5,53.8 L1554.9,53.7 L1558.3,53.6 L1561.7,53.4 L1565.1,53.3" stroke="#00B0F0"/>
<path d="M374.8,1272.9 L378.3,1272.9 L381.9,1272.9 L385.4,1272.9 L388.9,1272.9 L392.4,1272.9 L395.9,1272.8 L399.4,1272.8 L402.9,1272.8 L406.3,1272.7 L409.8,1272.7 L413.3,1272.6 L416.7,1272.5 L420.2,1272.5 L423.6,1272.4 L427.1,1272.3 L430.5,1272.2 L434.0,1272.1 L437.4,1272.0 L440.8,1271.9 L444.3,1271.7 L447.7,1271.6 L451.1,1271.5 L454.6,1271.3 L458.0,1271.2 L461.4,1271.0 L464.9,1270.8 L468.3,1270.6 L471.8,1270.4 L475.2,1270.2 L478.6,1270.0 L482.1,1269.8 L485.6,1269.6 L489.0,1269.4 L492.5,1269.1 L496.0,1268.9 L499.4,1268.6 L502.9,1268.3 L506.4,1268.0 L509.9,1267.7 L513.4,1267.4 L516.9,1267.1 L520.4,1266.8 L523.9,1266.4 L527.4,1266.0 L530.9,1265.7 L534.3,1265.2 L537.8,1264.8 L541.3,1264.4 L544.8,1263.9 L548.3,1263.4 L551.8,1262.9 L555.2,1262.3 L558.7,1261.8 L562.1,1261.2 L565.6,1260.5 L569.0,1259.9 L572.5,1259.2 L575.9,1258.5 L579.3,1257.8 L582.7,1257.0 L586.1,1256.2 L589.5,1255.4 L592.8,1254.5 L596.2,1253.6 L599.5,1252.6 L602.8,1251.7 L606.1,1250.6 L609.4,1249.6 L612.7,1248.5 L616.0,1247.3 L619.2,1246.2 L622.4,1244.9 L625.6,1243.7 L628.8,1242.4 L632.0,1241.0 L635.1,1239.6 L638.2,1238.1 L641.3,1236.6 L644.4,1235.1 L647.4,1233.5 L650.4,1231.8 L653.4,1230.1 L656.4,1228.4 L659.4,1226.6 L662.3,1224.8 L665.2,1222.9 L668.0,1221.0 L670.9,1219.0 L673.7,1217.0 L676.5,1215.0 L679.3,1212.9 L682.0,1210.8 L684.8,1208.6 L687.5,1206.4 L690.1,1204.2 L692.8,1202.0 L695.4,1199.7 L698.0,1197.4 L700.6,1195.0 L703.1,1192.6 L705.6,1190.2 L708.1,1187.8 L710.6,1185.3 L713.0,1182.8 L715.4,1180.3 L717.8,1177.8 L720.2,1175.2 L722.5,1172.6 L724.8,1170.0 L727.1,1167.4 L729.3,1164.8 L731.5,1162.1 L733.7,1159.4 L735.9,1156.7 L738.0,1154.0 L740.1,1151.3 L742.2,1148.6 L744.3,1145.8 L746.3,1143.0 L748.3,1140.2 L750.3,1137.4 L752.3,1134.6 L754.3,1131.7 L756.2,1128.9 L758.1,1126.0 L759.9,1123.1 L761.8,1120.2 L763.6,1117.3 L765.4,1114.4 L767.2,1111.4 L769.0,1108.5 L770.7,1105.5 L772.5,1102.5 L774.2,1099.5 L775.9,1096.5 L777.5,1093.5 L779.2,1090.5 L780.8,1087.4 L782.4,1084.4 L784.0,1081.3 L785.6,1078.2 L787.1,1075.1 L788.7,1072.0 L790.2,1068.9 L791.7,1065.8 L793.2,1062.7 L794.7,1059.5 L796.1,1056.4 L797.6,1053.2 L799.0,1050.0 L800.4,1046.9 L801.8,1043.7 L803.2,1040.5 L804.6,1037.3 L805.9,1034.1 L807.3,1030.9 L808.6,1027.7 L809.9,1024.4 L811.2,1021.2 L812.5,1018.0 L813.8,1014.7 L815.1,1011.5 L816.3,1008.2 L817.6,1004.9 L818.8,1001.7 L820.1,998.4 L821.3,995.1 L822.5,991.8 L823.7,988.5 L824.9,985.3 L826.1,982.0 L827.3,978.7 L828.4,975.4 L829.6,972.1 L830.8,968.8 L831.9,965.5 L833.1,962.2 L834.2,958.8 L835.3,955.5 L836.5,952.2 L837.6,948.9 L838.7,945.6 L839.8,942.3 L840.9,939.0 L842.0,935.6 L843.1,932.3 L844.2,929.0 L845.3,925.7 L846.4,922.4 L847.5,919.0 L848.6,915.7 L849.6,912.4 L850.7,909.1 L851.8,905.7 L852.8,902.4 L853.9,899.1 L854.9,895.8 L856.0,892.4 L857.0,889.1 L858.1,885.8 L859.1,882.5 L860.1,879.1 L861.1,875.8 L862.2,872.5 L863.2,869.1 L864.2,865.8 L865.2,862.5 L866.2,859.1 L867.2,855.8 L868.2,852.5 L869.2,849.1 L870.2,845.8 L871.2,842.5 L872.2,839.1 L873.2,835.8 L874.2,832.5 L875.1,829.1 L876.1,825.8 L877.1,822.4 L878.1,819.1 L879.0,815.8 L880.0,812.4 L880.9,809.1 L881.9,805.7 L882.8,802.4 L883.8,799.0 L884.7,795.7 L885.7,792.4 L886.6,789.0 L887.6,785.7 L888.5,782.3 L889.4,779.0 L890.4,775.6 L891.3,772.3 L892.2,768.9 L893.2,765.6 L894.1,762.2 L895.0,758.9 L895.9,755.5 L896.8,752.2 L897.7,748.9 L898.7,745.5 L899.6,742.2 L900.5,738.8 L901.4,735.5 L902.3,732.1 L903.2,728.8 L904.1,725.4 L905.0,722.1 L905.9,718.7 L906.8,715.4 L907.7,712.0 L908.6,708.6 L909.4,705.3 L910.3,701.9 L911.2,698.6 L912.1,695.2 L913.0,691.9 L913.9,688.5 L914.8,685.2 L915.6,681.8 L916.5,678.5 L917.4,675.1 L918.3,671.8 L919.1,668.4 L920.0,665.1 L920.9,661.7 L921.8,658.3 L922.6,655.0 L923.5,651.6 L924.4,648.3 L925.3,644.9 L926.1,641.6 L927.0,638.2 L927.9,634.9 L928.7,631.5 L929.6,628.2 L930.5,624.8 L931.3,621.5 L932.2,618.1 L933.1,614.7 L933.9,611.4 L934.8,608.0 L935.7,604.7 L936.5,601.3 L937.4,598.0 L938.3,594.6 L939.1,591.3 L940.0,587.9 L940.9,584.6 L941.7,581.2 L942.6,577.8 L943.5,574.5 L944.3,571.1 L945.2,567.8 L946.1,564.4 L946.9,561.1 L947.8,557.7 L948.7,554.4 L949.5,551.0 L950.4,547.7 L951.3,544.3 L952.1,541.0 L953.0,537.6 L953.9,534.3 L954.8,530.9 L955.6,527.6 L956.5,524.2 L957.4,520.9 L958.3,517.5 L959.2,514.2 L960.0,510.8 L960.9,507.5 L961.8,504.1 L962.7,500.8 L963.6,497.4 L964.5,494.1 L965.4,490.7 L966.2,487.4 L967.1,484.0 L968.0,480.7 L968.9,477.3 L969.8,474.0 L970.7,470.6 L971.6,467.3 L972.5,464.0 L973.4,460.6 L974.3,457.3 L975.2,453.9 L976.2,450.6 L977.1,447.2 L978.0,443.9 L978.9,440.6 L979.8,437.2 L980.7,433.9 L981.7,430.5 L982.6,427.2 L983.5,423.9 L984.4,420.5 L985.4,417.2 L986.3,413.8 L987.2,410.5 L988.2,407.2 L989.1,403.8 L990.1,400.5 L991.0,397.2 L992.0,393.8 L992.9,390.5 L993.9,387.2 L994.8,383.8 L995.8,380.5 L996.8,377.2 L997.7,373.8 L998.7,370.5 L999.7,367.2 L1000.7,363.9 L1001.6,360.5 L1002.6,357.2 L1003.6,353.9 L1004.6,350.6 L1005.6,347.2 L1006.6,343.9 L1007.6,340.6 L1008.6,337.3 L1009.6,333.9 L1010.6,330.6 L1011.7,327.3 L1012.7,324.0 L1013.7,320.7 L1014.7,317.3 L1015.8,314.0 L1016.8,310.7 L1017.8,307.4 L1018.9,304.1 L1019.9,300.8 L1021.0,297.5 L1022.0,294.1 L1023.1,290.8 L1024.2,287.5 L1025.3,284.2 L1026.3,280.9 L1027.4,277.6 L1028.5,274.3 L1029.6,271.0 L1030.8,267.7 L1031.9,264.4 L1033.0,261.1 L1034.2,257.9 L1035.3,254.6 L1036.5,251.3 L1037.6,248.0 L1038.8,244.7 L1040.0,241.5 L1041.2,238.2 L1042.4,235.0 L1043.7,231.7 L1044.9,228.4 L1046.2,225.2 L1047.4,222.0 L1048.7,218.7 L1050.0,215.5 L1051.3,212.3 L1052.7,209.0 L1054.0,205.8 L1055.3,202.6 L1056.7,199.4 L1058.1,196.2 L1059.5,193.0 L1060.9,189.8 L1062.4,186.6 L1063.8,183.5 L1065.3,180.3 L1066.8,177.1 L1068.3,174.0 L1069.8,170.8 L1071.4,167.7 L1073.0,164.6 L1074.6,161.4 L1076.2,158.3 L1077.8,155.2 L1079.5,152.2 L1081.2,149.1 L1082.9,146.1 L1084.7,143.0 L1086.5,140.1 L1088.3,137.1 L1090.1,134.2 L1092.1,131.3 L1094.0,128.4 L1096.0,125.6 L1098.0,122.8 L1100.1,120.1 L1102.2,117.4 L1104.4,114.7 L1106.7,112.1 L1108.9,109.6 L1111.3,107.1 L1113.7,104.6 L1116.1,102.3 L1118.6,99.9 L1121.2,97.7 L1123.7,95.4 L1126.4,93.3 L1129.1,91.2 L1131.8,89.1 L1134.6,87.2 L1137.4,85.2 L1140.3,83.4 L1143.2,81.6 L1146.1,79.9 L1149.1,78.2 L1152.1,76.6 L1155.2,75.1 L1158.3,73.6 L1161.4,72.2 L1164.6,70.9 L1167.8,69.6 L1171.0,68.4 L1174.2,67.3 L1177.5,66.2 L1180.8,65.3 L1184.1,64.3 L1187.5,63.4 L1190.9,62.6 L1194.3,61.9 L1197.7,61.2 L1201.1,60.5 L1204.6,59.9 L1208.1,59.3 L1211.5,58.8 L1215.0,58.3 L1218.5,57.9 L1222.0,57.5 L1225.6,57.1 L1229.1,56.8 L1232.6,56.5 L1236.1,56.2 L1239.7,56.0 L1243.2,55.7 L1246.7,55.5 L1250.3,55.4 L1253.8,55.2 L1257.3,55.1 L1260.8,54.9 L1264.3,54.8 L1267.8,54.7 L1271.3,54.6 L1274.8,54.5 L1278.3,54.5 L1281.7,54.4 L1285.2,54.3 L1288.6,54.2 L1292.0,54.1 L1295.5,54.1 L1298.9,54.0 L1302.2,53.9 L1305.6,53.7 L1309.0,53.6 L1312.3,53.5" stroke="#70AD47"/>
</g>
<g fill="#000">
<circle cx="444" cy="1258" r="12"/>
<circle cx="482" cy="1261.6" r="12"/>
<circle cx="511.9" cy="1267.5" r="12"/>
<circle cx="542.4" cy="1273.3" r="12"/>
<circle cx="628" cy="1265.3" r="12"/>
<circle cx="740.6" cy="1270.5" r="12"/>
<circle cx="794" cy="1257" r="12"/>
<circle cx="879.4" cy="1270" r="12"/>
<circle cx="903" cy="1263.6" r="12"/>
<circle cx="963.9" cy="1270.3" r="12"/>
<circle cx="992.9" cy="1272.5" r="12"/>
<circle cx="1025.7" cy="1243.4" r="12"/>
<circle cx="1140.8" cy="1261.3" r="12"/>
<circle cx="1190.9" cy="1252.2" r="12"/>
<circle cx="1246.1" cy="1264" r="12"/>
<circle cx="1275.9" cy="1257" r="12"/>
<circle cx="1333.8" cy="1249.3" r="12"/>
<circle cx="1386.3" cy="1206.5" r="12"/>
<circle cx="1414.6" cy="1265.8" r="12"/>
<circle cx="1475.8" cy="1222" r="12"/>
<circle cx="1503.7" cy="1226" r="12"/>
<circle cx="1525.2" cy="1226.9" r="12"/>
<circle cx="1557.1" cy="1258.6" r="12"/>
<circle cx="1585.5" cy="1198.4" r="12"/>
<circle cx="1611.8" cy="1231.6" r="12"/>
<circle cx="1645.5" cy="1208.1" r="12"/>
<circle cx="1665.1" cy="1167.9" r="12"/>
<circle cx="1695" cy="1181.6" r="12"/>
<circle cx="1722" cy="1130.9" r="12"/>
<circle cx="1749" cy="1056" r="12"/>
<circle cx="1777.4" cy="985" r="12"/>
<circle cx="1806.7" cy="909.5" r="12"/>
<circle cx="1839.6" cy="791" r="12"/>
<circle cx="1863.1" cy="681.3" r="12"/>
<circle cx="1891.3" cy="549.4" r="12"/>
<circle cx="1920.8" cy="388.5" r="12"/>
<circle cx="1943.7" cy="275" r="12"/>
<circle cx="1975.4" cy="197.2" r="12"/>
<circle cx="2004.7" cy="164.1" r="12"/>
<circle cx="2034.5" cy="117.4" r="12"/>
<circle cx="2061" cy="56" r="12"/>
<circle cx="2109.5" cy="56" r="12"/>
</g>
<g fill="#FFC000" stroke="#000" stroke-width="3">
<circle cx="576.2" cy="1242.3" r="10.3"/>
<circle cx="645.5" cy="1272.4" r="10.3"/>
<circle cx="700.7" cy="1263.3" r="10.3"/>
<circle cx="756.2" cy="1264.3" r="10.3"/>
<circle cx="813.5" cy="1265" r="10.3"/>
<circle cx="858" cy="1269.5" r="10.3"/>
<circle cx="887" cy="1254.2" r="10.3"/>
<circle cx="917.4" cy="1261.5" r="10.3"/>
<circle cx="1025.8" cy="1270.7" r="10.3"/>
<circle cx="1222" cy="1272.8" r="10.3"/>
<circle cx="1272.8" cy="1264.3" r="10.3"/>
<circle cx="1299" cy="1244.2" r="10.3"/>
<circle cx="1327.5" cy="1269.5" r="10.3"/>
<circle cx="1355.8" cy="1259.8" r="10.3"/>
<circle cx="1381.2" cy="1261.1" r="10.3"/>
<circle cx="1438.3" cy="1265.2" r="10.3"/>
<circle cx="1465.4" cy="1262.2" r="10.3"/>
<circle cx="1492.3" cy="1243.1" r="10.3"/>
<circle cx="1521.6" cy="1240.2" r="10.3"/>
<circle cx="1548.7" cy="1160.8" r="10.3"/>
<circle cx="1577.1" cy="1128.8" r="10.3"/>
<circle cx="1605.4" cy="994.5" r="10.3"/>
<circle cx="1631.7" cy="847.4" r="10.3"/>
<circle cx="1660.2" cy="650.3" r="10.3"/>
<circle cx="1687" cy="483.5" r="10.3"/>
<circle cx="1715.7" cy="341.1" r="10.3"/>
<circle cx="1743.3" cy="243.2" r="10.3"/>
<circle cx="1771" cy="204.5" r="10.3"/>
<circle cx="1799.2" cy="157.1" r="10.3"/>
<circle cx="1824.7" cy="132.8" r="10.3"/>
<circle cx="1859.4" cy="92.3" r="10.3"/>
<circle cx="1886.8" cy="85.5" r="10.3"/>
<circle cx="1912.8" cy="73.6" r="10.3"/>
<circle cx="1942" cy="61.7" r="10.3"/>
<circle cx="1964.2" cy="55.9" r="10.3"/>
<circle cx="2031.1" cy="59" r="10.3"/>
<circle cx="2087" cy="64.4" r="10.3"/>
<circle cx="2115.8" cy="67.8" r="10.3"/>
</g>
<g fill="#8F4AC8" stroke="#000" stroke-width="3">
<circle cx="804.9" cy="1255.2" r="10.3"/>
<circle cx="834.5" cy="1260.3" r="10.3"/>
<circle cx="994.8" cy="1262" r="10.3"/>
<circle cx="1050.4" cy="1266.1" r="10.3"/>
<circle cx="1077.6" cy="1269.3" r="10.3"/>
<circle cx="1105.5" cy="1271.7" r="10.3"/>
<circle cx="1186.8" cy="1272" r="10.3"/>
<circle cx="1216.5" cy="1268" r="10.3"/>
<circle cx="1243.5" cy="1241.5" r="10.3"/>
<circle cx="1270.8" cy="1208.6" r="10.3"/>
<circle cx="1298.7" cy="1167.2" r="10.3"/>
<circle cx="1327" cy="1085.7" r="10.3"/>
<circle cx="1353.8" cy="946.3" r="10.3"/>
<circle cx="1383.2" cy="834.5" r="10.3"/>
<circle cx="1410" cy="655.2" r="10.3"/>
<circle cx="1438.1" cy="484.4" r="10.3"/>
<circle cx="1465.7" cy="329.1" r="10.3"/>
<circle cx="1493.4" cy="209.7" r="10.3"/>
<circle cx="1520.6" cy="159.6" r="10.3"/>
<circle cx="1546.8" cy="81.6" r="10.3"/>
<circle cx="1583" cy="75.8" r="10.3"/>
<circle cx="1608.5" cy="63" r="10.3"/>
<circle cx="1666" cy="59.6" r="10.3"/>
<circle cx="1747.8" cy="55.7" r="10.3"/>
<circle cx="1775.3" cy="71.2" r="10.3"/>
</g>
<g fill="#ED7D31" stroke="#000" stroke-width="3">
<circle cx="607.5" cy="1265.9" r="10.3"/>
<circle cx="691.7" cy="1239.5" r="10.3"/>
<circle cx="774.2" cy="1266.4" r="10.3"/>
<circle cx="826" cy="1253.3" r="10.3"/>
<circle cx="882.5" cy="1242" r="10.3"/>
<circle cx="908.5" cy="1247" r="10.3"/>
<circle cx="937.6" cy="1238.3" r="10.3"/>
<circle cx="965.5" cy="1206.7" r="10.3"/>
<circle cx="994" cy="1199" r="10.3"/>
<circle cx="1021.3" cy="1159.4" r="10.3"/>
<circle cx="1049.5" cy="1137.5" r="10.3"/>
<circle cx="1075.6" cy="1128.5" r="10.3"/>
<circle cx="1103.8" cy="1069.7" r="10.3"/>
<circle cx="1131.8" cy="996.4" r="10.3"/>
<circle cx="1160.2" cy="872.9" r="10.3"/>
<circle cx="1186.9" cy="753.4" r="10.3"/>
<circle cx="1213.3" cy="589.7" r="10.3"/>
<circle cx="1242.5" cy="440.8" r="10.3"/>
<circle cx="1270.7" cy="297.9" r="10.3"/>
<circle cx="1298.4" cy="211" r="10.3"/>
<circle cx="1325" cy="145.7" r="10.3"/>
<circle cx="1353.2" cy="97.8" r="10.3"/>
<circle cx="1382" cy="79.5" r="10.3"/>
<circle cx="1408.7" cy="77.8" r="10.3"/>
<circle cx="1491.9" cy="68.4" r="10.3"/>
<circle cx="1575.2" cy="69" r="10.3"/>
<circle cx="1658.8" cy="60.5" r="10.3"/>
<circle cx="1716" cy="53.2" r="10.3"/>
</g>
<g fill="#00B0F0" stroke="#000" stroke-width="3">
<circle cx="493.7" cy="1266.8" r="10.3"/>
<circle cx="522.3" cy="1257.7" r="10.3"/>
<circle cx="551.5" cy="1240.9" r="10.3"/>
<circle cx="606.1" cy="1243" r="10.3"/>
<circle cx="634.3" cy="1170.5" r="10.3"/>
<circle cx="659.5" cy="1249.8" r="10.3"/>
<circle cx="686.2" cy="1252.9" r="10.3"/>
<circle cx="716" cy="1227.8" r="10.3"/>
<circle cx="744.3" cy="1191.7" r="10.3"/>
<circle cx="773.1" cy="1187.5" r="10.3"/>
<circle cx="799.7" cy="1133.8" r="10.3"/>
<circle cx="826.5" cy="1104.8" r="10.3"/>
<circle cx="854.4" cy="1094.7" r="10.3"/>
<circle cx="881.9" cy="991.5" r="10.3"/>
<circle cx="911.2" cy="907.7" r="10.3"/>
<circle cx="937.3" cy="778.7" r="10.3"/>
<circle cx="966" cy="645" r="10.3"/>
<circle cx="992.6" cy="477.9" r="10.3"/>
<circle cx="1021.6" cy="348" r="10.3"/>
<circle cx="1049.4" cy="247" r="10.3"/>
<circle cx="1075.8" cy="183.5" r="10.3"/>
<circle cx="1104.3" cy="138.9" r="10.3"/>
<circle cx="1131.5" cy="103.3" r="10.3"/>
<circle cx="1187.8" cy="103.3" r="10.3"/>
<circle cx="1214.3" cy="58.8" r="10.3"/>
<circle cx="1298" cy="73.5" r="10.3"/>
<circle cx="1353.1" cy="66" r="10.3"/>
<circle cx="1381" cy="74.5" r="10.3"/>
</g>
<g fill="#70AD47" stroke="#000" stroke-width="3">
<circle cx="304.5" cy="1271" r="10.3"/>
<circle cx="361.4" cy="1268.8" r="10.3"/>
<circle cx="388.6" cy="1272.9" r="10.3"/>
<circle cx="442" cy="1233.5" r="10.3"/>
<circle cx="464.3" cy="1157.5" r="10.3"/>
<circle cx="494.8" cy="1123.2" r="10.3"/>
<circle cx="523.2" cy="1019" r="10.3"/>
<circle cx="550.1" cy="941.6" r="10.3"/>
<circle cx="577.5" cy="846.3" r="10.3"/>
<circle cx="607" cy="712.9" r="10.3"/>
<circle cx="632" cy="628" r="10.3"/>
<circle cx="660.2" cy="480.3" r="10.3"/>
<circle cx="687.3" cy="325.2" r="10.3"/>
<circle cx="715.4" cy="266.8" r="10.3"/>
<circle cx="743.2" cy="173.6" r="10.3"/>
<circle cx="770.9" cy="168.6" r="10.3"/>
<circle cx="800" cy="164.4" r="10.3"/>
<circle cx="827.2" cy="95.5" r="10.3"/>
<circle cx="852.6" cy="80.2" r="10.3"/>
<circle cx="883.6" cy="55.7" r="10.3"/>
<circle cx="939.5" cy="74.1" r="10.3"/>
<circle cx="995" cy="59.9" r="10.3"/>
</g>
<text x="357" y="149" font-family="Liberation Serif, serif" font-weight="bold" font-style="italic" font-size="80">x<tspan font-style="normal" font-size="49.5" dy="17.5">DMSO</tspan></text>
<circle cx="366" cy="230.6" r="12" fill="#000"/>
<text transform="translate(398,252.8) scale(0.96,1.045)" font-family="Liberation Serif, serif" font-weight="bold" font-size="68">0</text>
<circle cx="366" cy="327.2" r="10.3" fill="#FFC000" stroke="#000" stroke-width="3"/>
<text transform="translate(398,349.4) scale(0.96,1.045)" font-family="Liberation Serif, serif" font-weight="bold" font-size="68">0.1</text>
<circle cx="366" cy="424.4" r="10.3" fill="#8F4AC8" stroke="#000" stroke-width="3"/>
<text transform="translate(398,446.6) scale(0.96,1.045)" font-family="Liberation Serif, serif" font-weight="bold" font-size="68">0.2</text>
<circle cx="366" cy="521.8" r="10.3" fill="#ED7D31" stroke="#000" stroke-width="3"/>
<text transform="translate(398,544.0) scale(0.96,1.045)" font-family="Liberation Serif, serif" font-weight="bold" font-size="68">0.25</text>
<circle cx="366" cy="618.8" r="10.3" fill="#00B0F0" stroke="#000" stroke-width="3"/>
<text transform="translate(398,641.0) scale(0.96,1.045)" font-family="Liberation Serif, serif" font-weight="bold" font-size="68">0.3</text>
<circle cx="366" cy="715.9" r="10.3" fill="#70AD47" stroke="#000" stroke-width="3"/>
<text transform="translate(398,738.1) scale(0.96,1.045)" font-family="Liberation Serif, serif" font-weight="bold" font-size="68">0.35</text>
</svg>
</body></html>
